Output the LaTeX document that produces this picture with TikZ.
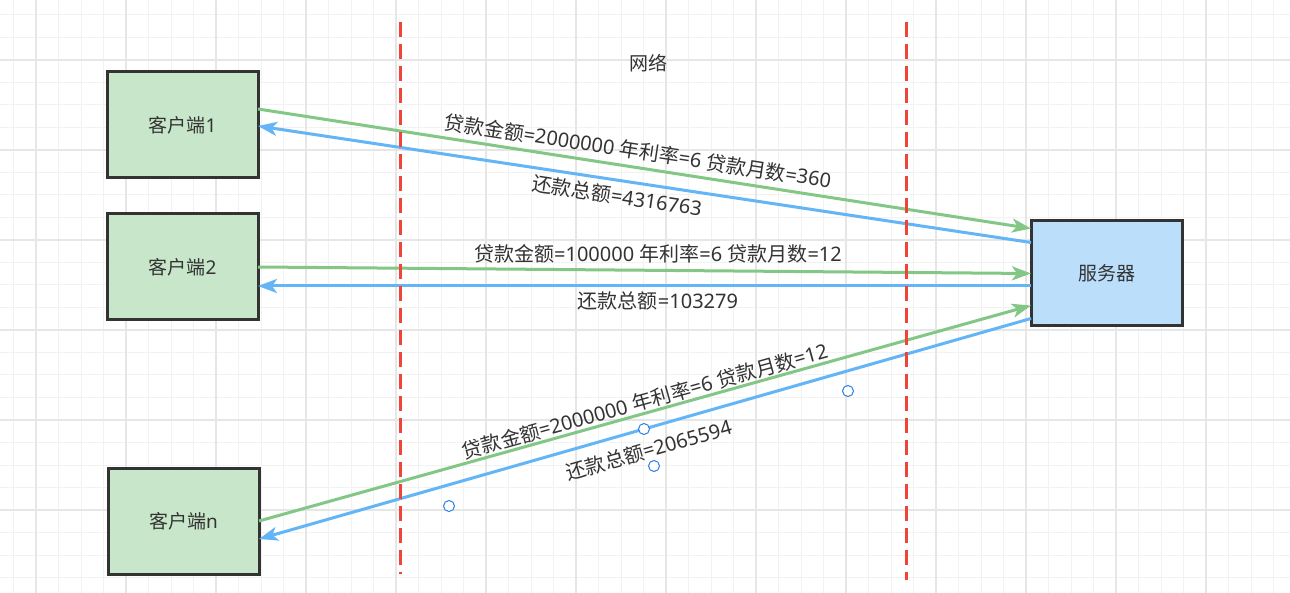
\documentclass[tikz,border=0pt]{standalone}
\usepackage{fontspec}
\setmainfont{Noto Sans}
\newfontfamily\cjk{Noto Sans CJK SC}
\newcommand{\C}[1]{{\cjk #1}}
\usetikzlibrary{arrows.meta,calc}
\definecolor{gridminor}{HTML}{F2F2F2}
\definecolor{gridmajor}{HTML}{E6E6E6}
\definecolor{boxgreen}{HTML}{C8E6C9}
\definecolor{boxblue}{HTML}{BBDEFB}
\definecolor{edgegreen}{HTML}{82C785}
\definecolor{edgeblue}{HTML}{64B5F6}
\definecolor{netred}{HTML}{F04438}
\definecolor{txt}{HTML}{333333}
\definecolor{handlecol}{HTML}{2B7DE9}
\definecolor{bordercol}{HTML}{333333}
\begin{document}
\begin{tikzpicture}[x=1pt,y=-1pt,
  box/.style={draw=bordercol, line width=3pt, minimum width=151pt, minimum height=106pt,
    inner sep=0pt, outer sep=0pt, font=\fontsize{19}{23}\selectfont, text=txt},
  client/.style={box, fill=boxgreen},
  server/.style={box, fill=boxblue},
  req/.style={draw=edgegreen, line width=3pt, -{Stealth[length=19pt,width=14pt,inset=5pt]}},
  resp/.style={draw=edgeblue, line width=3pt, -{Stealth[length=19pt,width=14pt,inset=5pt]}},
  lbl/.style={font=\fontsize{20}{24}\selectfont, text=txt, inner sep=0pt},
  netline/.style={draw=netred, line width=3pt, dash pattern=on 15pt off 7pt},
  handlept/.style={circle, draw=handlecol, fill=white, line width=1pt, minimum size=11pt, inner sep=0pt}
]
\useasboundingbox (0,0) rectangle (1290,593);
\fill[white] (0,0) rectangle (1290,593);
% grid
\foreach \i in {0,...,57} { \draw[gridminor, line width=1pt] ({13.5+22.5*\i},0) -- ({13.5+22.5*\i},593); }
\foreach \i in {0,...,25} { \draw[gridminor, line width=1pt] (0,{15+22.5*\i}) -- (1290,{15+22.5*\i}); }
\foreach \i in {0,...,13} { \draw[gridmajor, line width=1.3pt] ({36+90*\i},0) -- ({36+90*\i},593); }
\foreach \i in {0,...,5} { \draw[gridmajor, line width=1.3pt] (0,{60+90*\i}) -- (1290,{60+90*\i}); }

% nodes
\node[client] (c1) at (182.5,125) {\C{客户端}1};
\node[client] (c2) at (182.5,267) {\C{客户端}2};
\node[client] (cn) at (183.5,521) {\C{客户端}n};
\node[server, minimum height=105pt] (srv) at (1106.5,273.5) {\C{服务器}};

% connectors
\draw[req]  ($(c1.east)+(0,-16)$) -- ($(srv.west)+(0,-45)$);
\draw[resp] ($(srv.west)+(0,-31)$) -- ($(c1.east)+(0,1)$);
\draw[req]  (c2.east) -- (srv.west);
\draw[resp] ($(srv.west)+(0,12.5)$) -- ($(c2.east)+(0,19)$);
\draw[req]  (cn.east) -- ($(srv.west)+(0,32)$);
\draw[resp] ($(srv.west)+(0,45)$) -- ($(cn.east)+(0,18)$);

% network boundaries
\coordinate (n1t) at (400,22);
\coordinate (n1b) at (400,574);
\coordinate (n2t) at (906,22);
\coordinate (n2b) at (906,580);
\draw[netline] (n1t) -- (n1b);
\draw[netline] (n2t) -- (n2b);
\node[lbl, font=\fontsize{19}{23}\selectfont] (net) at (648,63) {\C{网络}};

% labels
\node[lbl, rotate=-8.7] (l1) at (638,151) {\C{贷款金额}=2000000 \C{年利率}=6 \C{贷款月数}=360};
\node[lbl, rotate=-8.6] (l2) at (617,196) {\C{还款总额}=4316763};
\node[lbl] (l3) at (658,254) {\C{贷款金额}=100000 \C{年利率}=6 \C{贷款月数}=12};
\node[lbl] (l4) at (658,301) {\C{还款总额}=103279};
\node[lbl, rotate=15.6] (l5) at (645,401) {\C{贷款金额}=2000000 \C{年利率}=6 \C{贷款月数}=12};
\node[lbl, rotate=15.9] (l6) at (649,450) {\C{还款总额}=2065594};

% selection handles
\node[handlept] (h1) at (449,506) {};
\node[handlept] (h2) at (644,429) {};
\node[handlept] (h3) at (654,466) {};
\node[handlept] (h4) at (848,391) {};
\end{tikzpicture}
\end{document}
